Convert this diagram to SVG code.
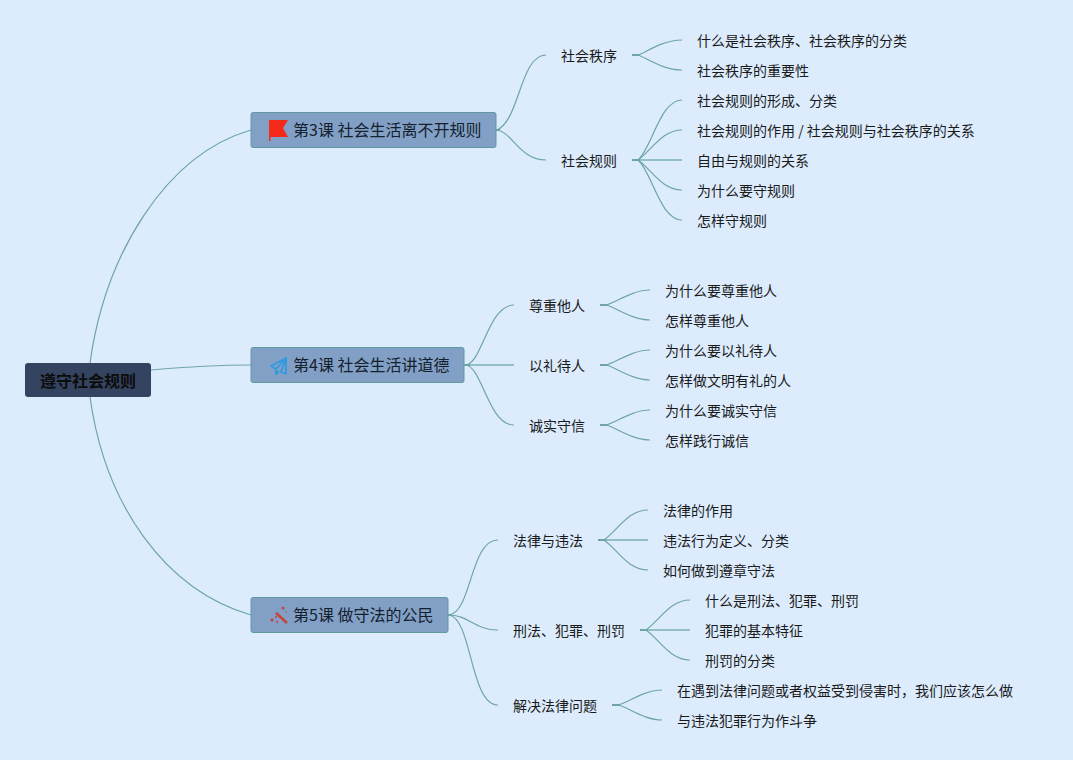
<svg xmlns="http://www.w3.org/2000/svg" width="1073" height="760" viewBox="0 0 1073 760">
<style>
text{font-family:"Noto Sans CJK SC","Liberation Sans",sans-serif;fill:#1a1a1a}
.l{font-size:14px}
.t{font-size:16px;fill:#14202e}
.r{font-size:16px;font-weight:700;fill:#0c0c0c}
.b{fill:#82a0c6;stroke:#5f9a9e;stroke-width:1}
#connectors path{fill:none;stroke:#6fa5a8;stroke-width:1.200}
#connectors path.h{stroke:#93c0c3;stroke-width:2}
#connectors path.s{stroke:#6fa5a0;stroke-width:2}
</style>
<rect width="1073" height="760" fill="#dcecfd"/>
<g id="connectors">
<path d="M90 363C105 255 165 155 251 130"/>
<path class="h" style="stroke-width:1.200;stroke:#6fa5a8" d="M151 370C185 367 215 365 251 365"/>
<path d="M90 397C105 505 165 590 251 615"/>
<path d="M497 130C520 120 520 55 546 55"/>
<path d="M497 130C512 132 520 160 546 160"/>
<path d="M638 55C645 53 662 40 682 40"/>
<path d="M638 55C645 57 662 70 682 70"/>
<path d="M638 160C652 148 660 100 682 100"/>
<path d="M638 160C652 150 662 130 682 130"/>
<path class="h" d="M638 160H682"/>
<path d="M638 160C652 170 662 190 682 190"/>
<path d="M638 160C652 172 660 220 682 220"/>
<path d="M465 365C482 365 488 305 514 305"/>
<path class="h" d="M465 365H514"/>
<path d="M465 365C482 365 488 425 514 425"/>
<path d="M606 305C615 303 632 290 650 290"/>
<path d="M606 305C615 307 632 320 650 320"/>
<path d="M606 365C615 363 632 350 650 350"/>
<path d="M606 365C615 367 632 380 650 380"/>
<path d="M606 425C615 423 632 410 650 410"/>
<path d="M606 425C615 427 632 440 650 440"/>
<path d="M449 615C472 612 470 540 498 540"/>
<path d="M449 615C468 615 475 630 498 630"/>
<path d="M449 615C472 618 470 705 498 705"/>
<path d="M604 540C618 530 628 510 648 510"/>
<path class="h" d="M604 540H648"/>
<path d="M604 540C618 550 628 570 648 570"/>
<path d="M646 630C660 620 670 600 690 600"/>
<path class="h" d="M646 630H690"/>
<path d="M646 630C660 640 670 660 690 660"/>
<path d="M618 705C628 703 644 690 662 690"/>
<path d="M618 705C628 707 644 720 662 720"/>
<path class="s" d="M632 55H640M632 160H640M600 305H608M600 365H608M600 425H608M598 540H606M640 630H648M612 705H620M464 365H470M496 130H500M448 615H452"/>
</g>
<g id="root"><rect x="25" y="363" width="126" height="34" rx="3" fill="#34435f"/><text class="r" x="40" y="387">遵守社会规则</text></g>
<g id="topic3"><rect class="b" x="251" y="112.500" width="245" height="35" rx="2"/>
<path d="M269 120H288L283 128L288 137H270.500V141H269Z" fill="#f5291a"/>
<text class="t" x="293" y="136">第3课 社会生活离不开规则</text></g>
<g id="topic4"><rect class="b" x="251" y="347.500" width="213" height="35" rx="2"/>
<path d="M286 358L271 366L276 369L286 358L281 372L286 374Z M276 369V374L279 371" fill="none" stroke="#2f9ae0" stroke-width="1.800" stroke-linejoin="round"/>
<text class="t" x="293" y="371">第4课 社会生活讲道德</text></g>
<g id="topic5"><rect class="b" x="251" y="597.500" width="197" height="35" rx="2"/>
<path d="M276 613L287 623" stroke="#c8423c" stroke-width="2.600" fill="none"/>
<circle cx="283" cy="608" r="1.500" fill="#c8423c"/><circle cx="272" cy="620" r="1.600" fill="#c8423c"/><circle cx="276" cy="617" r="1" fill="#c8423c"/><circle cx="277" cy="622" r="1" fill="#c8423c"/><circle cx="286" cy="612" r="0.800" fill="#c8423c"/>
<text class="t" x="293" y="621">第5课 做守法的公民</text></g>
<g id="n1"><text class="l" x="561" y="61">社会秩序</text></g>
<g id="n2"><text class="l" x="561" y="166">社会规则</text></g>
<g id="n3"><text class="l" x="697" y="46">什么是社会秩序、社会秩序的分类</text></g>
<g id="n4"><text class="l" x="697" y="76">社会秩序的重要性</text></g>
<g id="n5"><text class="l" x="697" y="106">社会规则的形成、分类</text></g>
<g id="n6"><text class="l" x="697" y="136">社会规则的作用 / 社会规则与社会秩序的关系</text></g>
<g id="n7"><text class="l" x="697" y="166">自由与规则的关系</text></g>
<g id="n8"><text class="l" x="697" y="196">为什么要守规则</text></g>
<g id="n9"><text class="l" x="697" y="226">怎样守规则</text></g>
<g id="n10"><text class="l" x="529" y="311">尊重他人</text></g>
<g id="n11"><text class="l" x="529" y="371">以礼待人</text></g>
<g id="n12"><text class="l" x="529" y="431">诚实守信</text></g>
<g id="n13"><text class="l" x="665" y="296">为什么要尊重他人</text></g>
<g id="n14"><text class="l" x="665" y="326">怎样尊重他人</text></g>
<g id="n15"><text class="l" x="665" y="356">为什么要以礼待人</text></g>
<g id="n16"><text class="l" x="665" y="386">怎样做文明有礼的人</text></g>
<g id="n17"><text class="l" x="665" y="416">为什么要诚实守信</text></g>
<g id="n18"><text class="l" x="665" y="446">怎样践行诚信</text></g>
<g id="n19"><text class="l" x="513" y="546">法律与违法</text></g>
<g id="n20"><text class="l" x="513" y="636">刑法、犯罪、刑罚</text></g>
<g id="n21"><text class="l" x="513" y="711">解决法律问题</text></g>
<g id="n22"><text class="l" x="663" y="516">法律的作用</text></g>
<g id="n23"><text class="l" x="663" y="546">违法行为定义、分类</text></g>
<g id="n24"><text class="l" x="663" y="576">如何做到遵章守法</text></g>
<g id="n25"><text class="l" x="705" y="606">什么是刑法、犯罪、刑罚</text></g>
<g id="n26"><text class="l" x="705" y="636">犯罪的基本特征</text></g>
<g id="n27"><text class="l" x="705" y="666">刑罚的分类</text></g>
<g id="n28"><text class="l" x="677" y="696">在遇到法律问题或者权益受到侵害时，我们应该怎么做</text></g>
<g id="n29"><text class="l" x="677" y="726">与违法犯罪行为作斗争</text></g>
</svg>
